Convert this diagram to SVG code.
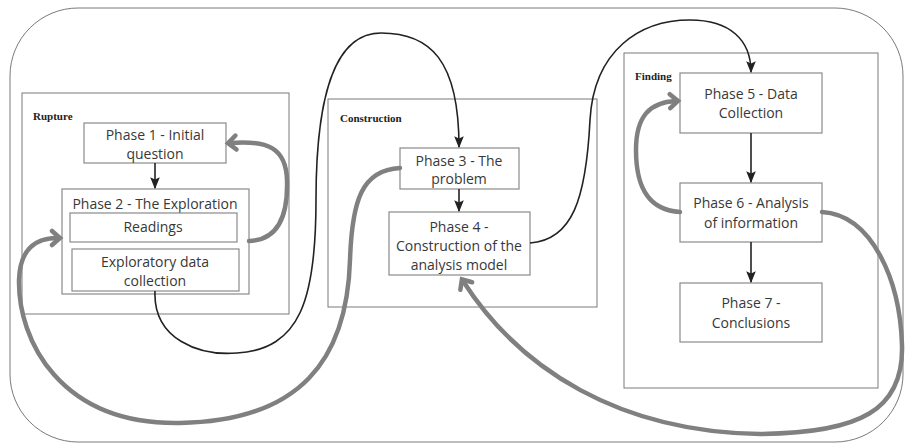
<svg xmlns="http://www.w3.org/2000/svg" width="906" height="445" viewBox="0 0 906 445">
<style>
.frame{fill:none;stroke:#7a7a7a;stroke-width:1}
.box{fill:#fff;stroke:#8a8a8a;stroke-width:1.2}
.t{font-family:"Open Sans","Noto Sans",sans-serif;font-size:14px;fill:#383838;text-anchor:middle}
.lbl{font-family:"Liberation Serif",serif;font-weight:bold;font-size:11px;fill:#222}
.blk{fill:none;stroke:#222;stroke-width:1.6}
.gry{fill:none;stroke:#808080;stroke-width:4.5;stroke-linecap:round}
</style>
<defs>
<marker id="ab" markerUnits="userSpaceOnUse" markerWidth="12" markerHeight="12" refX="9" refY="5" orient="auto" viewBox="0 0 10 10">
<path d="M0,1 L10,5 L0,9 L2,5 Z" fill="#222"/>
</marker>
<marker id="ag" markerUnits="userSpaceOnUse" markerWidth="20" markerHeight="20" refX="11" refY="10" orient="auto" viewBox="0 0 20 20">
<path d="M5,3 L13,10 L5,17" fill="none" stroke="#808080" stroke-width="4.5" stroke-linecap="round" stroke-linejoin="miter"/>
</marker>
</defs>
<rect class="frame" x="10" y="8" width="893" height="434" rx="68" ry="68"/>
<g id="rupture">
<rect class="frame" x="22" y="93" width="267" height="221"/>
<text class="lbl" x="33" y="120">Rupture</text>
</g>
<g id="construction">
<rect class="frame" x="328" y="99" width="269" height="208"/>
<text class="lbl" x="340" y="122">Construction</text>
</g>
<g id="finding">
<rect class="frame" x="624" y="53" width="254" height="335"/>
<text class="lbl" x="635" y="80">Finding</text>
</g>
<g id="phase1">
<rect class="box" x="84" y="123" width="142" height="40"/>
<text class="t" x="155" y="140">Phase 1 - Initial</text>
<text class="t" x="155" y="159">question</text>
</g>
<g id="phase2">
<rect class="box" x="62" y="189" width="187" height="105"/>
<text class="t" x="155" y="209">Phase 2 - The Exploration</text>
</g>
<g id="readings">
<rect class="box" x="70" y="213" width="167" height="29"/>
<text class="t" x="153" y="232">Readings</text>
</g>
<g id="exploratory">
<rect class="box" x="72" y="249" width="167" height="42"/>
<text class="t" x="155" y="267">Exploratory data</text>
<text class="t" x="155" y="286">collection</text>
</g>
<g id="phase3">
<rect class="box" x="400" y="148" width="119" height="41"/>
<text class="t" x="459" y="166">Phase 3 - The</text>
<text class="t" x="459" y="184">problem</text>
</g>
<g id="phase4">
<rect class="box" x="389" y="212" width="141" height="63"/>
<text class="t" x="459" y="232">Phase 4 -</text>
<text class="t" x="459" y="251">Construction of the</text>
<text class="t" x="459" y="270">analysis model</text>
</g>
<g id="phase5">
<rect class="box" x="680" y="73" width="142" height="60"/>
<text class="t" x="751" y="99">Phase 5 - Data</text>
<text class="t" x="751" y="118">Collection</text>
</g>
<g id="phase6">
<rect class="box" x="680" y="183" width="142" height="59"/>
<text class="t" x="751" y="208">Phase 6 - Analysis</text>
<text class="t" x="751" y="228">of information</text>
</g>
<g id="phase7">
<rect class="box" x="680" y="283" width="142" height="59"/>
<text class="t" x="751" y="308">Phase 7 -</text>
<text class="t" x="751" y="328">Conclusions</text>
</g>
<g id="connectors">
<path class="blk" d="M155,163 L155,188" marker-end="url(#ab)"/>
<path class="blk" d="M459,189 L459,211" marker-end="url(#ab)"/>
<path class="blk" d="M751,133 L751,182" marker-end="url(#ab)"/>
<path class="blk" d="M751,242 L751,282" marker-end="url(#ab)"/>
<path class="blk" d="M155,291 C153,340 200,356 237,353 C300,349 316,300 316,200 C316,70 345,33 381,33 C430,33 459,60 459,147" marker-end="url(#ab)"/>
<path class="blk" d="M530,243 C572,240 586,200 590,120 C594,50 640,20 690,20 C730,20 751,40 751,72" marker-end="url(#ab)"/>
<path class="gry" d="M249,241 C280,240 288,212 287,180 C286,148 268,140 230,143" marker-end="url(#ag)"/>
<path class="gry" d="M400,168 C362,170 352,200 350,260 C347,360 300,421 180,423 C60,425 18,340 19,280 C20,248 36,238 58,238" marker-end="url(#ag)"/>
<path class="gry" d="M680,212 C645,210 636,182 636,150 C636,116 650,102 676,101" marker-end="url(#ag)"/>
<path class="gry" d="M822,212 C872,215 900,280 902,345 C904,410 860,433 760,434 C620,432 520,370 463,281" marker-end="url(#ag)"/>
</g>
</svg>
